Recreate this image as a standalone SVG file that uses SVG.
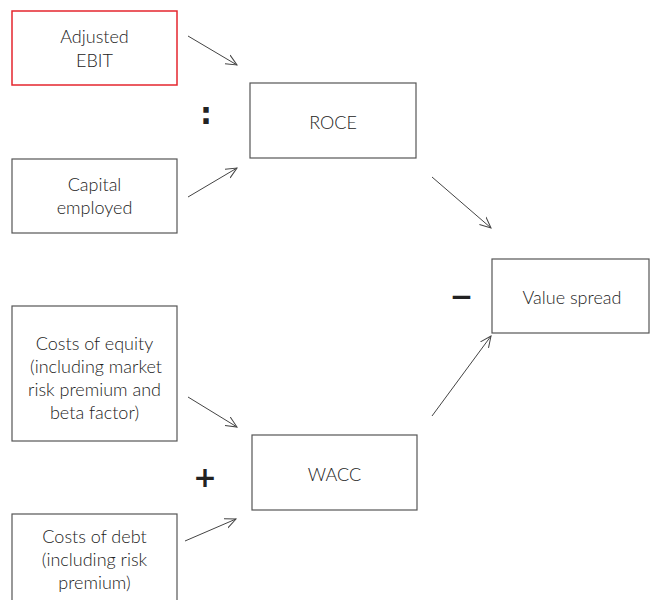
<svg xmlns="http://www.w3.org/2000/svg" width="650" height="600" viewBox="0 0 650 600">
<defs>
<style>
.box{fill:#fff;stroke:#555;stroke-width:1.2}
.red{fill:#fff;stroke:#e5262e;stroke-width:1.5}
.t{font-family:Lato,"Open Sans","Liberation Sans",sans-serif;font-size:18px;font-weight:300;fill:#222;text-anchor:middle}
.op{font-family:"DejaVu Sans","Liberation Sans",sans-serif;font-weight:bold;fill:#222;text-anchor:middle}
.conn line{stroke:#444;stroke-width:1;marker-end:url(#ah)}
</style>
<marker id="ah" viewBox="0 0 12 12" refX="11" refY="6" markerWidth="12" markerHeight="12" markerUnits="userSpaceOnUse" orient="auto">
<path d="M0,1 L11,6 L0,11" fill="none" stroke="#444" stroke-width="1"/>
</marker>
</defs>
<rect width="650" height="600" fill="#fff"/>
<g id="adjusted-ebit">
<rect class="red" x="12" y="11" width="165" height="74"/>
<text class="t" x="94.5" y="43">Adjusted</text>
<text class="t" x="94.5" y="67">EBIT</text>
</g>
<g id="capital-employed">
<rect class="box" x="12" y="159" width="165" height="74"/>
<text class="t" x="94.5" y="191">Capital</text>
<text class="t" x="94.5" y="214">employed</text>
</g>
<g id="roce">
<rect class="box" x="250" y="83" width="166" height="75"/>
<text class="t" x="333" y="129">ROCE</text>
</g>
<g id="value-spread">
<rect class="box" x="492" y="259" width="157" height="74"/>
<text class="t" x="572" y="304">Value spread</text>
</g>
<g id="costs-of-equity">
<rect class="box" x="12" y="306" width="165" height="135"/>
<text class="t" x="94.5" y="350">Costs of equity</text>
<text class="t" x="96" y="373">(including market</text>
<text class="t" x="94.5" y="396">risk premium and</text>
<text class="t" x="94.5" y="419">beta factor)</text>
</g>
<g id="wacc">
<rect class="box" x="252" y="435" width="165" height="75"/>
<text class="t" x="334.5" y="481">WACC</text>
</g>
<g id="costs-of-debt">
<rect class="box" x="12" y="514" width="165" height="95"/>
<text class="t" x="94.5" y="543">Costs of debt</text>
<text class="t" x="94.5" y="566">(including risk</text>
<text class="t" x="94.5" y="589">premium)</text>
</g>
<g id="operators">
<text class="op" x="206" y="124" font-size="30">:</text>
<text class="op" x="205" y="487" font-size="28">+</text>
<text class="op" x="461.5" y="306" font-size="28">−</text>
</g>
<g class="conn" id="connectors">
<line x1="188" y1="36" x2="237" y2="65"/>
<line x1="188" y1="197" x2="237" y2="168"/>
<line x1="432" y1="177" x2="491" y2="228"/>
<line x1="432" y1="416" x2="491" y2="336"/>
<line x1="188" y1="397" x2="237" y2="427"/>
<line x1="185" y1="541" x2="236" y2="519"/>
</g>
</svg>
